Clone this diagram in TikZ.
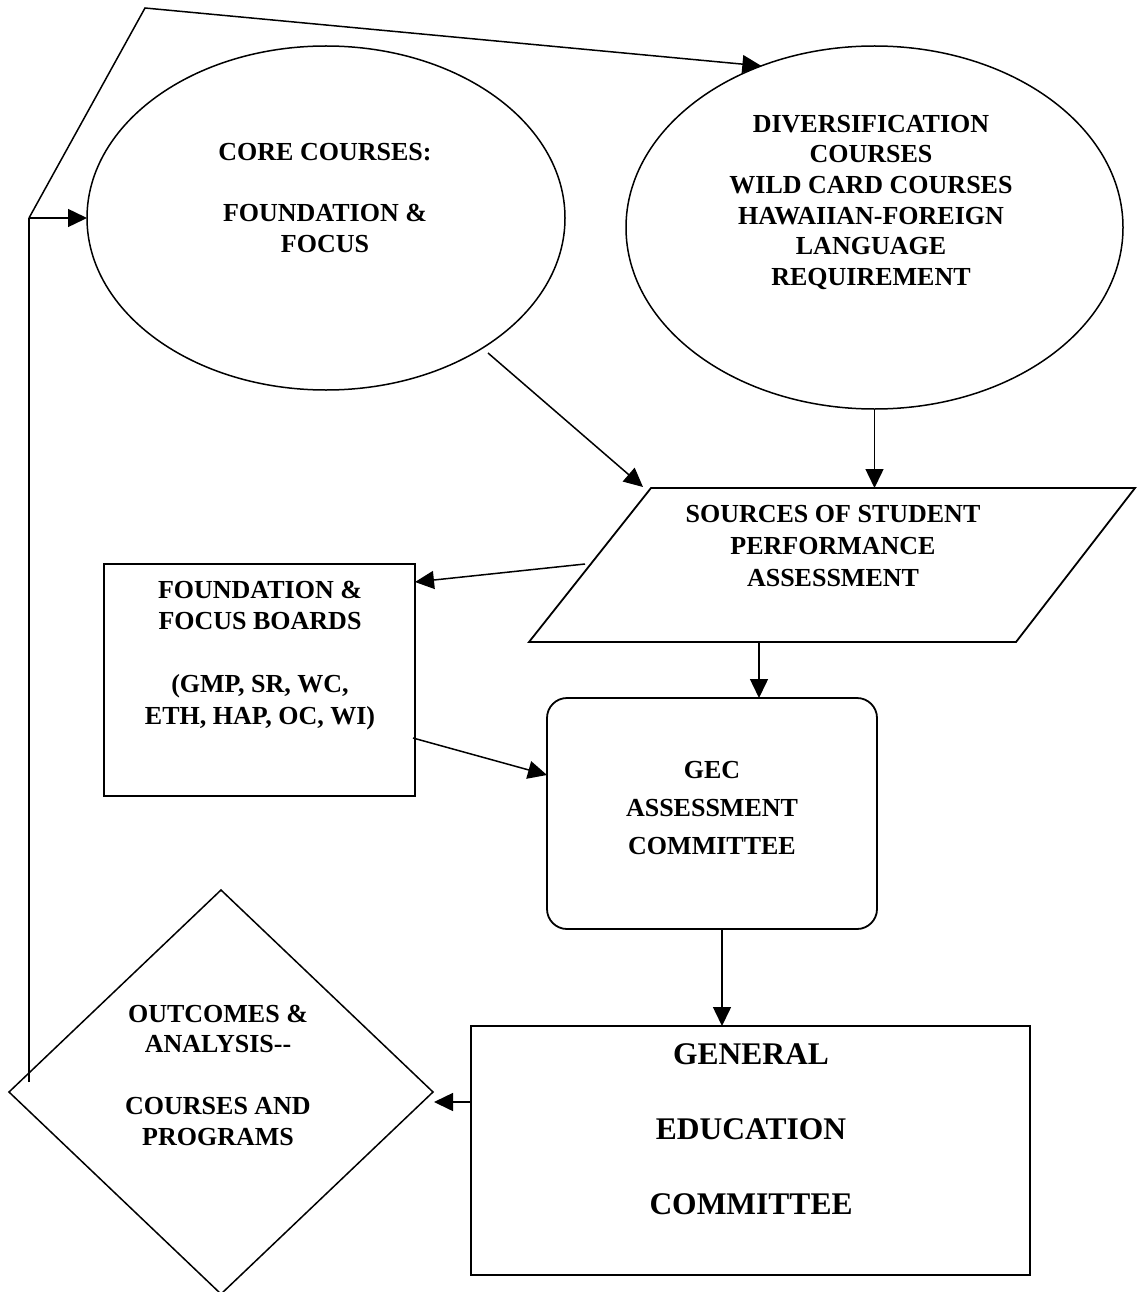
\documentclass[tikz,border=0pt]{standalone}
\usepackage{fontspec}
\setmainfont{Liberation Serif}
\usetikzlibrary{arrows.meta,shapes.geometric}
\begin{document}
\begin{tikzpicture}[x=1pt,y=-1pt,
  shp/.style={draw, line width=1.8pt, inner sep=0pt, outer sep=0pt},
  lbl/.style={font=\bfseries\fontsize{26}{31}\selectfont, align=center, inner sep=0pt, anchor=base},
  conn/.style={line width=1.5pt, -{Triangle[length=19pt,width=18pt]}},
  plain/.style={line width=1.5pt}
  ]
\useasboundingbox[fill=white] (0,0) rectangle (1136,1292);

% shapes
\node[shp, ellipse, line width=1.5pt, minimum width=478pt, minimum height=344pt] (core) at (326,218) {};
\node[shp, ellipse, line width=1.5pt, minimum width=497pt, minimum height=363pt] (div) at (874.5,227.5) {};
\coordinate (p1) at (651,488);
\coordinate (p2) at (1135,488);
\coordinate (p3) at (1016,642);
\coordinate (p4) at (529,642);
\draw[line width=1.8pt, line join=miter] (p1) -- (p2) -- (p3) -- (p4) -- cycle;
\node[shp, minimum width=311pt, minimum height=232pt] (ffb) at (259.5,680) {};
\node[shp, rounded corners=20pt, minimum width=330pt, minimum height=231pt] (gec) at (712,813.5) {};
\node[shp, minimum width=559pt, minimum height=249pt] (ged) at (750.5,1150.5) {};
\node[shp, diamond, line width=1.5pt, minimum width=424pt, minimum height=404pt] (oa) at (221,1092) {};

% texts (anchor base = baseline of the last line)
\node[lbl, font=\bfseries\fontsize{26}{30.5}\selectfont] (coretxt) at (325,252)
  {CORE COURSES:\\[30.5pt]FOUNDATION \&\\FOCUS};
\node[lbl, font=\bfseries\fontsize{26}{30.7}\selectfont] (divtxt) at (871,285.5)
  {DIVERSIFICATION\\COURSES\\WILD CARD COURSES\\HAWAIIAN-FOREIGN\\LANGUAGE\\REQUIREMENT};
\node[lbl, font=\bfseries\fontsize{26}{32}\selectfont] (paratxt) at (833,586)
  {SOURCES OF STUDENT\\PERFORMANCE\\ASSESSMENT};
\node[lbl, font=\bfseries\fontsize{26}{31.5}\selectfont] (fftxt) at (260,724)
  {FOUNDATION \&\\FOCUS BOARDS\\[31.5pt](GMP, SR, WC,\\ETH, HAP, OC, WI)};
\node[lbl, font=\bfseries\fontsize{26}{38}\selectfont] (gectxt) at (712,854)
  {GEC\\ASSESSMENT\\COMMITTEE};
\node[lbl, font=\bfseries\fontsize{31.5}{75}\selectfont] (gedtxt) at (751,1214)
  {GENERAL\\EDUCATION\\COMMITTEE};
\node[lbl, font=\bfseries\fontsize{26}{30.7}\selectfont] (oatxt) at (218,1145)
  {OUTCOMES \&\\ANALYSIS-{}-\\[30.7pt]COURSES AND\\PROGRAMS};

% connector end points
\coordinate (fb0) at (29,1082);
\coordinate (fb1) at (29,218);
\coordinate (fb2) at (145,8);
\coordinate (c1) at (488,353);
\coordinate (c1e) at (643,487);
\coordinate (s1) at (585,564);
\coordinate (s1e) at (415,582);
\coordinate (s2) at (759,642);
\coordinate (f1) at (413,738);
\coordinate (f1e) at (547,775);
\coordinate (g1) at (722,930);
\coordinate (e1) at (471,1102);
\coordinate (e1e) at (434,1102);

% connectors
\draw[plain] (fb0) -- (fb1);
\draw[conn] (fb1) -- (core.west);
\draw[conn, line join=miter] (fb1) -- (fb2) -- (div.125);
\draw[conn] (c1) -- (c1e);
\draw[conn] (div.south) -- (div.south |- p1);
\draw[conn] (s1) -- (s1e);
\draw[conn] (s2) -- (s2 |- gec.north);
\draw[conn] (f1) -- (f1e);
\draw[conn] (g1) -- (g1 |- ged.north);
\draw[conn] (e1) -- (e1e);
\end{tikzpicture}
\end{document}
